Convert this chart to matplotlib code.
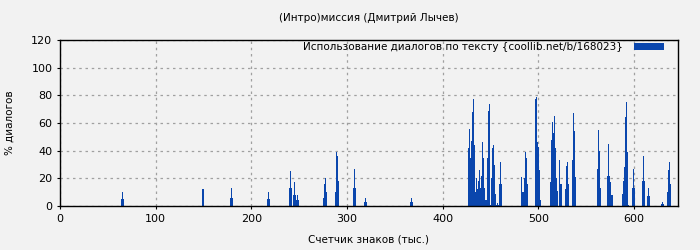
import numpy as np
import matplotlib
matplotlib.use("Agg")
import matplotlib.pyplot as plt

# bar groups: (first x position in thousands of chars, values in %)
groups = [
    (64, [5, 10, 5]),
    (148, [12, 24, 12]),
    (178, [6, 13, 6]),
    (216, [5, 10, 5]),
    (239, [13, 25, 13]),
    (244, [8, 17, 8, 4, 8, 4]),
    (275, [6, 16, 20, 10]),
    (287, [10, 29, 39, 36, 18]),
    (306, [13, 27, 13]),
    (318, [3, 6, 3]),
    (366, [3, 6, 3]),
    (427, [42, 56, 35, 47, 68, 77, 44, 10, 20, 12, 18, 26, 13, 22, 46, 35, 13,
           4, 4, 35, 69, 74, 38, 1, 20, 42, 44, 30, 9, 1, 2, 1, 16, 32, 16]),
    (482, [21, 10, 10, 20, 39, 35, 16]),
    (497, [77, 79, 46, 43, 26, 4]),
    (512, [17, 48, 61, 53, 65, 42, 20, 22, 11]),
    (522, [33, 16, 16]),
    (528, [12, 29, 32, 16]),
    (535, [33, 67, 54, 21]),
    (561, [27, 55, 40, 13]),
    (572, [22, 45, 22, 17, 8, 8]),
    (587, [9, 19, 18, 28, 64, 75, 39, 1]),
    (598, [13, 27, 13]),
    (608, [18, 36, 18]),
    (614, [7, 13, 7]),
    (628, [1.5, 3, 1.5]),
    (635, [10, 26, 32, 16]),
]

x_vals = []
y_vals = []
for start, vals in groups:
    for i, v in enumerate(vals):
        x_vals.append(start + i)
        y_vals.append(v)

title = "(Интро)миссия (Дмитрий Лычев)"
legend_label = "Использование диалогов по тексту {coollib.net/b/168023}"
x_ticks = [0, 100, 200, 300, 400, 500, 600]
y_ticks = [0, 20, 40, 60, 80, 100, 120]

bg = "#f2f2f2"
blue = "#0a46ad"

fig = plt.figure(figsize=(7, 2.5), dpi=100, facecolor=bg)
ax = fig.add_axes([60 / 700, 44 / 250, 618 / 700, 166 / 250])
ax.set_facecolor(bg)

ax.bar(x_vals, y_vals, width=1.0, align="edge", color=blue, linewidth=0,
       label=legend_label)

ax.set_xlim(0, 646)
ax.set_ylim(0, 120)
ax.set_xticks(x_ticks)
ax.set_yticks(y_ticks)
ax.tick_params(direction="out", length=2, width=0.8, labelsize=8, colors="black")
ax.grid(True, color="#a0a0a0", linestyle=(0, (2, 3)), linewidth=0.9)
ax.set_axisbelow(True)
for s in ax.spines.values():
    s.set_linewidth(1.0)
    s.set_color("black")

ax.set_title(title, fontsize=7.5, pad=14)
ax.set_xlabel("Счетчик знаков (тыс.)", fontsize=7.5, labelpad=8)
ax.set_ylabel("% диалогов", fontsize=7.5, labelpad=12)

# gnuplot-like key: text first, then the swatch, inset from the right border
ax.legend(loc="upper right", frameon=False, markerfirst=False, fontsize=7.5,
          handlelength=2.9, handleheight=0.6, borderaxespad=0.0,
          handletextpad=1.0, bbox_to_anchor=(1 - 10 / 618, 1 + 2 / 166))

fig.savefig("out.png", dpi=100, facecolor=bg)
